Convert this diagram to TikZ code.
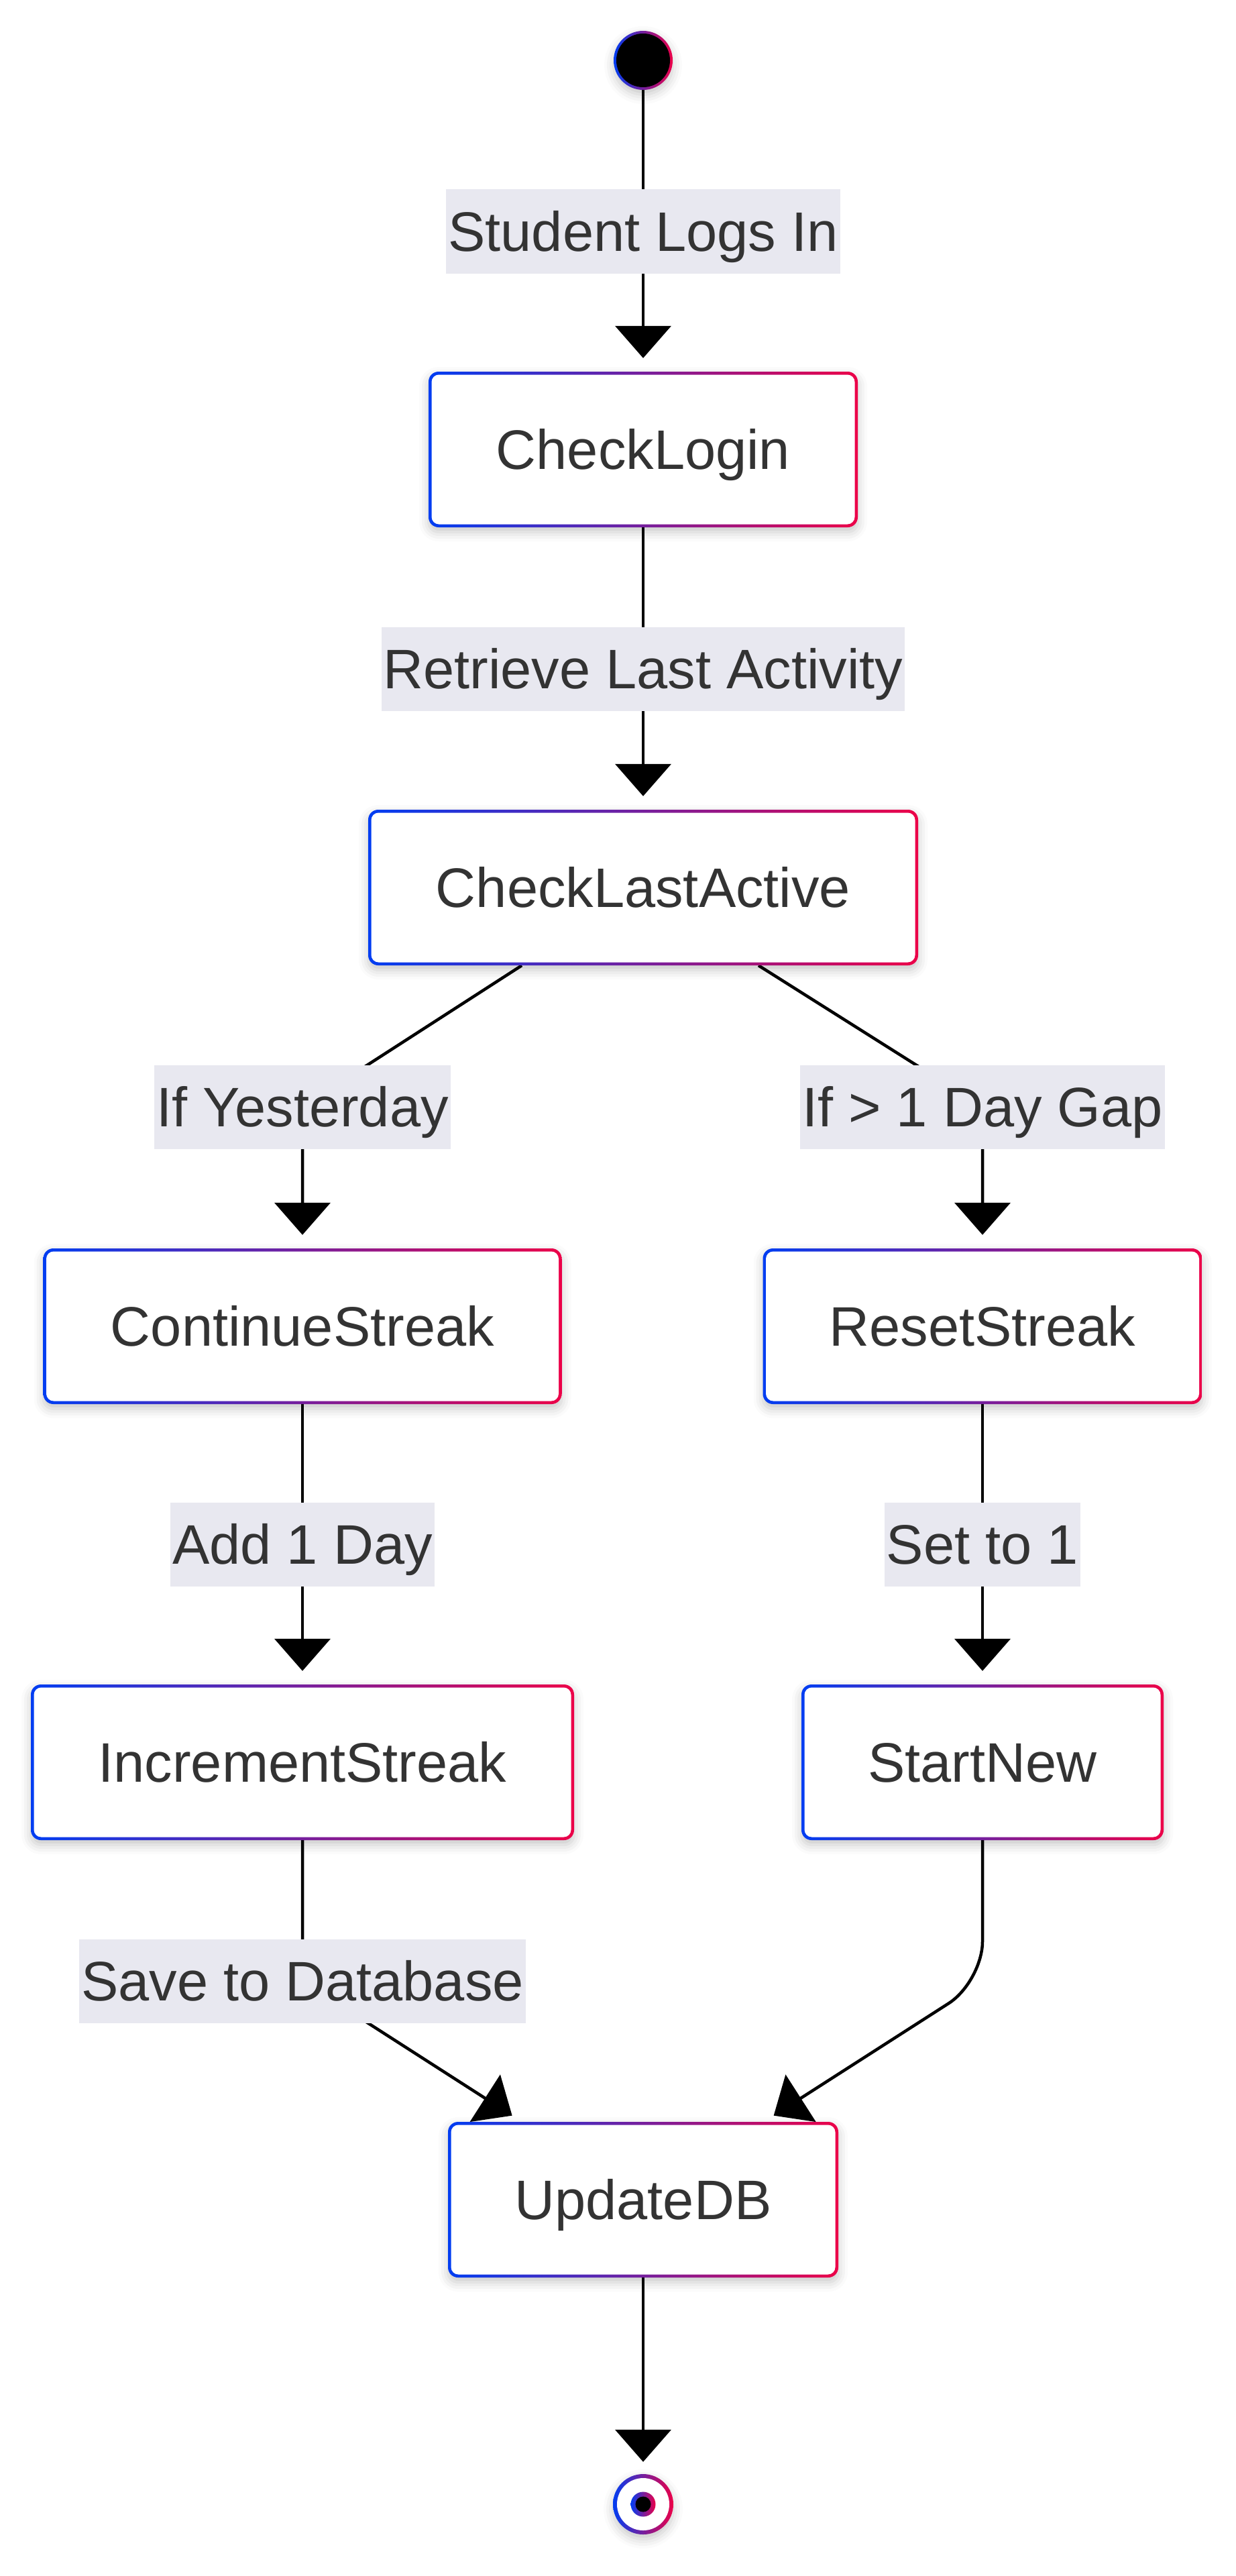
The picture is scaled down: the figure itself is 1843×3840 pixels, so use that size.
\documentclass[tikz,border=0pt]{standalone}
\usepackage{fontspec}
\setmainfont{Liberation Sans}
\usetikzlibrary{arrows.meta,shadows.blur}
\definecolor{gBlue}{RGB}{0,61,242}
\definecolor{gRed}{RGB}{236,0,72}
\definecolor{txt}{RGB}{51,51,51}
\definecolor{lblbg}{RGB}{232,232,240}
\pgfdeclarelayer{back}
\pgfdeclarelayer{bg}
\pgfsetlayers{back,bg,main}
\tikzset{
  bigfont/.style={font=\fontsize{83pt}{100pt}\selectfont, text=txt, text height=59pt, text depth=0pt},
  softshadow/.style={blur shadow={shadow xshift=0pt, shadow yshift=-7pt, shadow blur radius=14pt, shadow opacity=22}},
  stbox/.style={rectangle, rounded corners=15pt, left color=gBlue, right color=gRed,
    minimum height=232pt, minimum width=#1, inner sep=0pt, bigfont, softshadow,
    path picture={\fill[white, rounded corners=11pt]
      ([shift={(4.5pt,4.5pt)}]path picture bounding box.south west) rectangle
      ([shift={(-4.5pt,-4.5pt)}]path picture bounding box.north east);}},
  ringnode/.style={circle, minimum size=#1, inner sep=0pt, left color=gBlue, right color=gRed, softshadow},
  elabel/.style={fill=lblbg, inner xsep=3pt, inner ysep=0pt, minimum height=125pt, bigfont},
  conn/.style={draw=black, line width=4.5pt},
  arr/.style={conn, -{Triangle[length=48pt,width=83pt]}},
}
\begin{document}
\begin{tikzpicture}[x=1pt,y=-1pt]
\useasboundingbox (0,0) rectangle (1843,3840);
\begin{pgfonlayer}{back}
\fill[white] (0,0) rectangle (1843,3840);
\end{pgfonlayer}
% off-page primer for the shadow fading (never visible)
\path[softshadow, fill=white] (-600,-600) circle[radius=10pt];
\path[softshadow, fill=white] (-600,-700) rectangle (-580,-680);

% states
\node[stbox=640pt] (cl)  at (959,670)   {CheckLogin};
\node[stbox=820pt] (cla) at (959,1323)  {CheckLastActive};
\node[stbox=773pt] (cs)  at (451,1977)  {ContinueStreak};
\node[stbox=655pt] (rs)  at (1465,1977) {ResetStreak};
\node[stbox=810pt] (inc) at (451,2627)  {IncrementStreak};
\node[stbox=540pt] (sn)  at (1465,2627) {StartNew};
\node[stbox=582pt] (udb) at (959,3279)  {UpdateDB};

% start and end
\node[ringnode=88pt] (start) at (959,90) {};
\fill[black] (start.center) circle[radius=40pt];
\node[ringnode=90pt] (end) at (959,3733) {};
\fill[white] (end.center) circle[radius=39pt];
\shade[left color=gBlue, right color=gRed] (end.center) circle[radius=18.5pt];
\fill[black] (end.center) circle[radius=11.5pt];

% edge labels
\node[elabel] (lstu)  at (959,345)   {Student Logs In};
\node[elabel] (lret)  at (959,997)   {Retrieve Last Activity};
\node[elabel] (lyes)  at (451,1650)  {If Yesterday};
\node[elabel] (lgap)  at (1465,1650) {If > 1 Day Gap};
\node[elabel] (ladd)  at (451,2302)  {Add 1 Day};
\node[elabel] (lset)  at (1465,2302) {Set to 1};
\node[elabel] (lsave) at (451,2953)  {Save to Database};
\coordinate (bend) at (1465,2954);

% connectors
\begin{pgfonlayer}{bg}
\draw[arr, shorten >=20pt] (start) -- (cl);
\draw[arr, shorten >=20pt] (cl) -- (cla);
\draw[arr, shorten >=20pt] ([xshift=-181pt]cla.south) -- (lyes.center) -- (cs);
\draw[arr, shorten >=20pt] ([xshift=172pt]cla.south) -- (lgap.center) -- (rs);
\draw[arr, shorten >=20pt] (cs) -- (inc);
\draw[arr, shorten >=20pt] (rs) -- (sn);
\draw[arr, shorten >=17pt] (inc) -- (lsave.center) -- (udb);
\draw[arr, shorten >=17pt, rounded corners=60pt] (sn) -- (bend) -- (udb);
\draw[arr, shorten >=18pt] (udb) -- (end);
\end{pgfonlayer}
\end{tikzpicture}
\end{document}
